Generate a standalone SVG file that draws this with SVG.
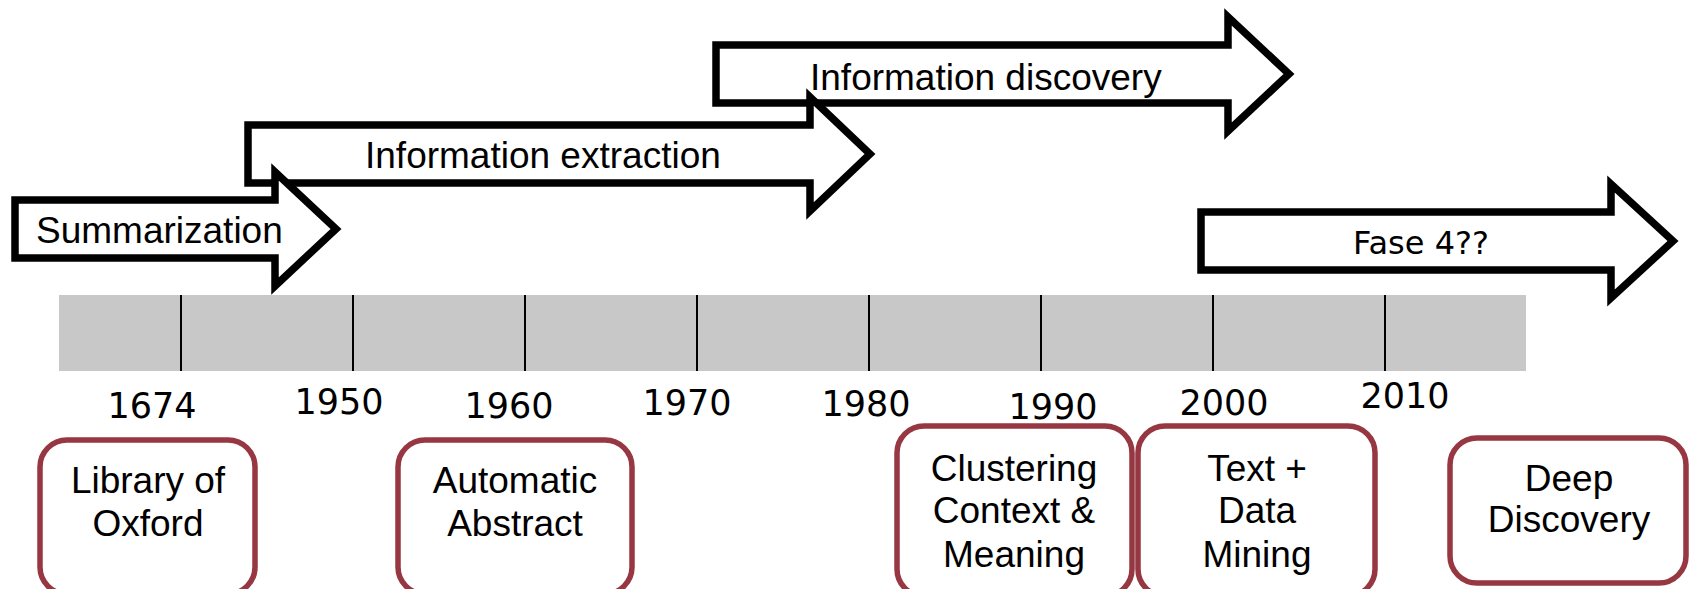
<svg xmlns="http://www.w3.org/2000/svg" width="1692" height="589" viewBox="0 0 1692 589">
<style>
.arrow{fill:#fff;stroke:#000;stroke-width:7.5;stroke-linejoin:miter;stroke-miterlimit:10}
.atext{font-family:"Liberation Sans",Arial,sans-serif;font-size:37px;fill:#000}
.year{font-family:"DejaVu Sans",Verdana,sans-serif;font-size:35px;fill:#000;text-anchor:middle}
.box{fill:#fff;stroke:#963742;stroke-width:5.5}
.btext{font-family:"Liberation Sans",Arial,sans-serif;font-size:37px;fill:#000;text-anchor:middle}
.tick{stroke:#000;stroke-width:2}
</style>
<rect width="1692" height="589" fill="#fff"/>
<g id="timeline">
<rect x="59" y="295" width="1467" height="76" fill="#c8c8c8"/>
<line class="tick" x1="181" y1="295" x2="181" y2="371"/>
<line class="tick" x1="353" y1="295" x2="353" y2="371"/>
<line class="tick" x1="525" y1="295" x2="525" y2="371"/>
<line class="tick" x1="697" y1="295" x2="697" y2="371"/>
<line class="tick" x1="869" y1="295" x2="869" y2="371"/>
<line class="tick" x1="1041" y1="295" x2="1041" y2="371"/>
<line class="tick" x1="1213" y1="295" x2="1213" y2="371"/>
<line class="tick" x1="1385" y1="295" x2="1385" y2="371"/>
<text class="year" x="152" y="418">1674</text>
<text class="year" x="339" y="414">1950</text>
<text class="year" x="509" y="418">1960</text>
<text class="year" x="687" y="415">1970</text>
<text class="year" x="866" y="416">1980</text>
<text class="year" x="1053" y="419">1990</text>
<text class="year" x="1224" y="415">2000</text>
<text class="year" x="1405" y="408">2010</text>
</g>
<g id="connectors">
<g id="arrow-discovery">
<path class="arrow" d="M716,45 H1228 V17 L1289,74 L1228,131 V103 H716 Z"/>
<text class="atext" x="810" y="90">Information discovery</text>
</g>
<g id="arrow-extraction">
<path class="arrow" d="M248,125 H810 V97 L870,154 L810,211 V183 H248 Z"/>
<text class="atext" x="365" y="168">Information extraction</text>
</g>
<g id="arrow-summarization">
<path class="arrow" d="M15,200 H275 V172 L336,229 L275,286 V258 H15 Z"/>
<text class="atext" x="36" y="243">Summarization</text>
</g>
<g id="arrow-fase4">
<path class="arrow" d="M1201,212 H1611 V184 L1673,241 L1611,298 V270 H1201 Z"/>
<text x="1421" y="254" font-family="DejaVu Sans, Verdana, sans-serif" font-size="32" text-anchor="middle">Fase 4??</text>
</g>
</g>
<g id="node-oxford">
<rect class="box" x="40" y="440" width="215" height="154" rx="27"/>
<text class="btext" x="148" y="493">Library of</text>
<text class="btext" x="148" y="536">Oxford</text>
</g>
<g id="node-abstract">
<rect class="box" x="398" y="440" width="234" height="154" rx="27"/>
<text class="btext" x="515" y="493">Automatic</text>
<text class="btext" x="515" y="536">Abstract</text>
</g>
<g id="node-clustering">
<rect class="box" x="897" y="426" width="235" height="170" rx="27"/>
<text class="btext" x="1014" y="481">Clustering</text>
<text class="btext" x="1014" y="523">Context &amp;</text>
<text class="btext" x="1014" y="567">Meaning</text>
</g>
<g id="node-textmining">
<rect class="box" x="1138" y="426" width="237" height="170" rx="27"/>
<text class="btext" x="1257" y="481">Text +</text>
<text class="btext" x="1257" y="523">Data</text>
<text class="btext" x="1257" y="567">Mining</text>
</g>
<g id="node-deep">
<rect class="box" x="1450" y="438" width="236" height="145" rx="27"/>
<text class="btext" x="1569" y="491">Deep</text>
<text class="btext" x="1569" y="532">Discovery</text>
</g>
</svg>
